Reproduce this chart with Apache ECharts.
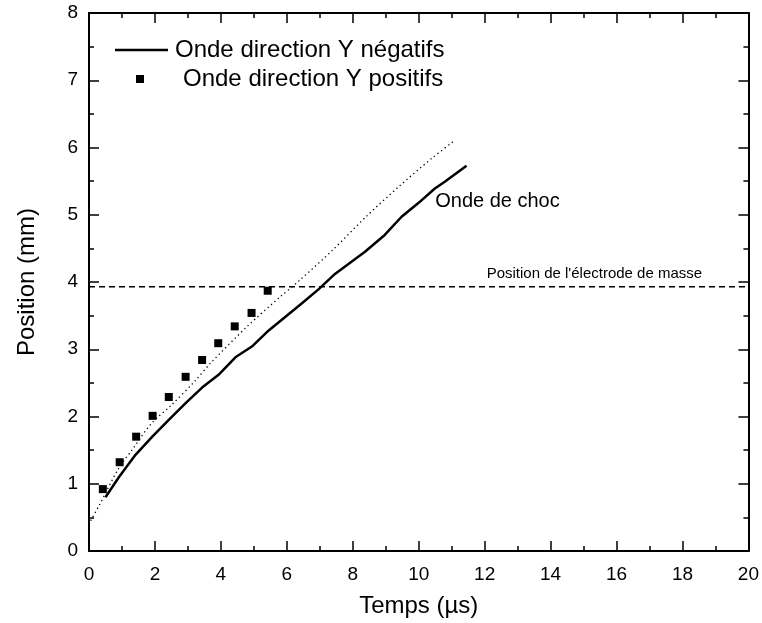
<!DOCTYPE html>
<html>
<head>
<meta charset="utf-8">
<script src="https://cdn.jsdelivr.net/npm/echarts@6/dist/echarts.min.js"></script>
<style>
  html, body { margin: 0; padding: 0; background: #fff; }
  #chart { width: 762px; height: 623px; }
</style>
</head>
<body>
<div id="chart"></div>
<script>
// Shock-wave front position over time
const xTicks = { min: 0, max: 20, interval: 2 };
const yTicks = { min: 0, max: 8, interval: 1 };

// Wave travelling towards negative Y (solid line)
const negTime = [0.50, 0.91, 1.41, 1.92, 2.42, 2.93, 3.43, 3.93, 4.44, 4.94, 5.45, 5.95, 6.45, 6.96, 7.46, 8.37, 8.97, 9.48, 9.98, 10.49, 10.79, 11.45];
const negPos  = [0.80, 1.10, 1.43, 1.70, 1.95, 2.20, 2.43, 2.62, 2.88, 3.04, 3.28, 3.48, 3.68, 3.89, 4.12, 4.45, 4.70, 4.97, 5.17, 5.39, 5.49, 5.73];

// Wave travelling towards positive Y (square markers)
const posTime = [0.42, 0.93, 1.43, 1.93, 2.42, 2.93, 3.43, 3.92, 4.42, 4.93, 5.42];
const posPos  = [0.92, 1.32, 1.70, 2.01, 2.29, 2.59, 2.84, 3.09, 3.34, 3.54, 3.87];

// Shock wave (dotted curve)
const shockTime = [0.05, 0.30, 0.90, 1.30, 1.90, 2.50, 3.20, 3.70, 4.80, 5.80, 6.40, 7.40, 8.40, 9.40, 10.40, 11.05];
const shockPos  = [0.45, 0.67, 1.23, 1.50, 1.90, 2.17, 2.52, 2.80, 3.34, 3.78, 4.03, 4.48, 4.97, 5.42, 5.84, 6.09];

// Ground electrode position
const electrodePos = 3.93;

const seriesNames = ['Onde direction Y négatifs', 'Onde direction Y positifs'];
const notes = [
  [10.5, 5.2, 'Onde de choc', 20],
  [12.06, 4.12, "Position de l'électrode de masse", 15]
];

const zip = (a, b) => a.map((v, i) => [v, b[i]]);
const FONT = 'Liberation Sans, Arial, sans-serif';

function axisBase(t, show) {
  return {
    type: 'value', min: t.min, max: t.max, interval: t.interval,
    axisLine: { show: true, onZero: false, lineStyle: { color: '#000', width: 2 } },
    axisTick: { show: true, inside: true, length: 10, lineStyle: { color: '#000', width: 1.5 } },
    minorTick: { show: true, splitNumber: 2, length: 5, lineStyle: { color: '#000', width: 1.5 } },
    splitLine: { show: false },
    axisLabel: { show: show, color: '#000', fontSize: 19, fontFamily: FONT }
  };
}

const chart = echarts.init(document.getElementById('chart'), null, { renderer: 'canvas' });

const xBottom = Object.assign(axisBase(xTicks, true), {
  position: 'bottom', name: 'Temps (µs)', nameLocation: 'middle', nameGap: 43,
  nameTextStyle: { color: '#000', fontSize: 24, fontFamily: FONT }
});
xBottom.axisLabel.margin = 14;
const xTop = Object.assign(axisBase(xTicks, false), { position: 'top' });

const yLeft = Object.assign(axisBase(yTicks, true), {
  position: 'left', name: 'Position (mm)', nameLocation: 'middle', nameGap: 50,
  nameTextStyle: { color: '#000', fontSize: 24, fontFamily: FONT }
});
yLeft.axisLabel.margin = 11;
const yRight = Object.assign(axisBase(yTicks, false), { position: 'right' });

chart.setOption({
  animation: false,
  backgroundColor: '#fff',
  grid: { left: 89, right: 13, top: 13, bottom: 72, containLabel: false },
  xAxis: [xBottom, xTop],
  yAxis: [yLeft, yRight],
  legend: [
    {
      data: [{ name: seriesNames[0], icon: 'rect' }], left: 110, top: 33, orient: 'vertical',
      itemWidth: 53, itemHeight: 2.5, selectedMode: false,
      itemStyle: { color: '#000' },
      textStyle: { color: '#000', fontSize: 24, fontFamily: FONT, lineHeight: 24, padding: [0, 0, 0, 2] }
    },
    {
      data: [{ name: seriesNames[1], icon: 'rect' }], left: 131, top: 62, orient: 'vertical',
      itemWidth: 8, itemHeight: 8, selectedMode: false,
      itemStyle: { color: '#000', opacity: 1 },
      textStyle: { color: '#000', fontSize: 24, fontFamily: FONT, lineHeight: 24, padding: [0, 0, 0, 34] }
    }
  ],
  series: [
    {
      name: seriesNames[0], type: 'line', data: zip(negTime, negPos),
      symbol: 'none', xAxisIndex: 0, yAxisIndex: 0,
      lineStyle: { color: '#000', width: 2.5 }, itemStyle: { color: '#000' }
    },
    {
      name: seriesNames[1], type: 'scatter', data: zip(posTime, posPos),
      symbol: 'rect', symbolSize: 8, xAxisIndex: 0, yAxisIndex: 0,
      itemStyle: { color: '#000', opacity: 1 }
    },
    {
      name: 'shock', type: 'line', data: zip(shockTime, shockPos),
      symbol: 'none', smooth: 0.3, xAxisIndex: 0, yAxisIndex: 0,
      lineStyle: { color: '#000', width: 1.3, type: [1.3, 3.2] }
    },
    {
      name: 'electrode', type: 'line',
      data: [[xTicks.min, electrodePos], [xTicks.max, electrodePos]],
      symbol: 'none', xAxisIndex: 0, yAxisIndex: 0,
      lineStyle: { color: '#000', width: 1.5, type: [6, 4] }
    },
    {
      name: 'notes', type: 'scatter', symbolSize: 0, silent: true,
      itemStyle: { opacity: 1 },
      data: notes.map(n => ({
        value: [n[0], n[1]],
        label: { show: true, position: 'right', distance: 0, formatter: n[2],
                 color: '#000', opacity: 1, fontSize: n[3], fontFamily: FONT }
      }))
    }
  ]
});
</script>
</body>
</html>
